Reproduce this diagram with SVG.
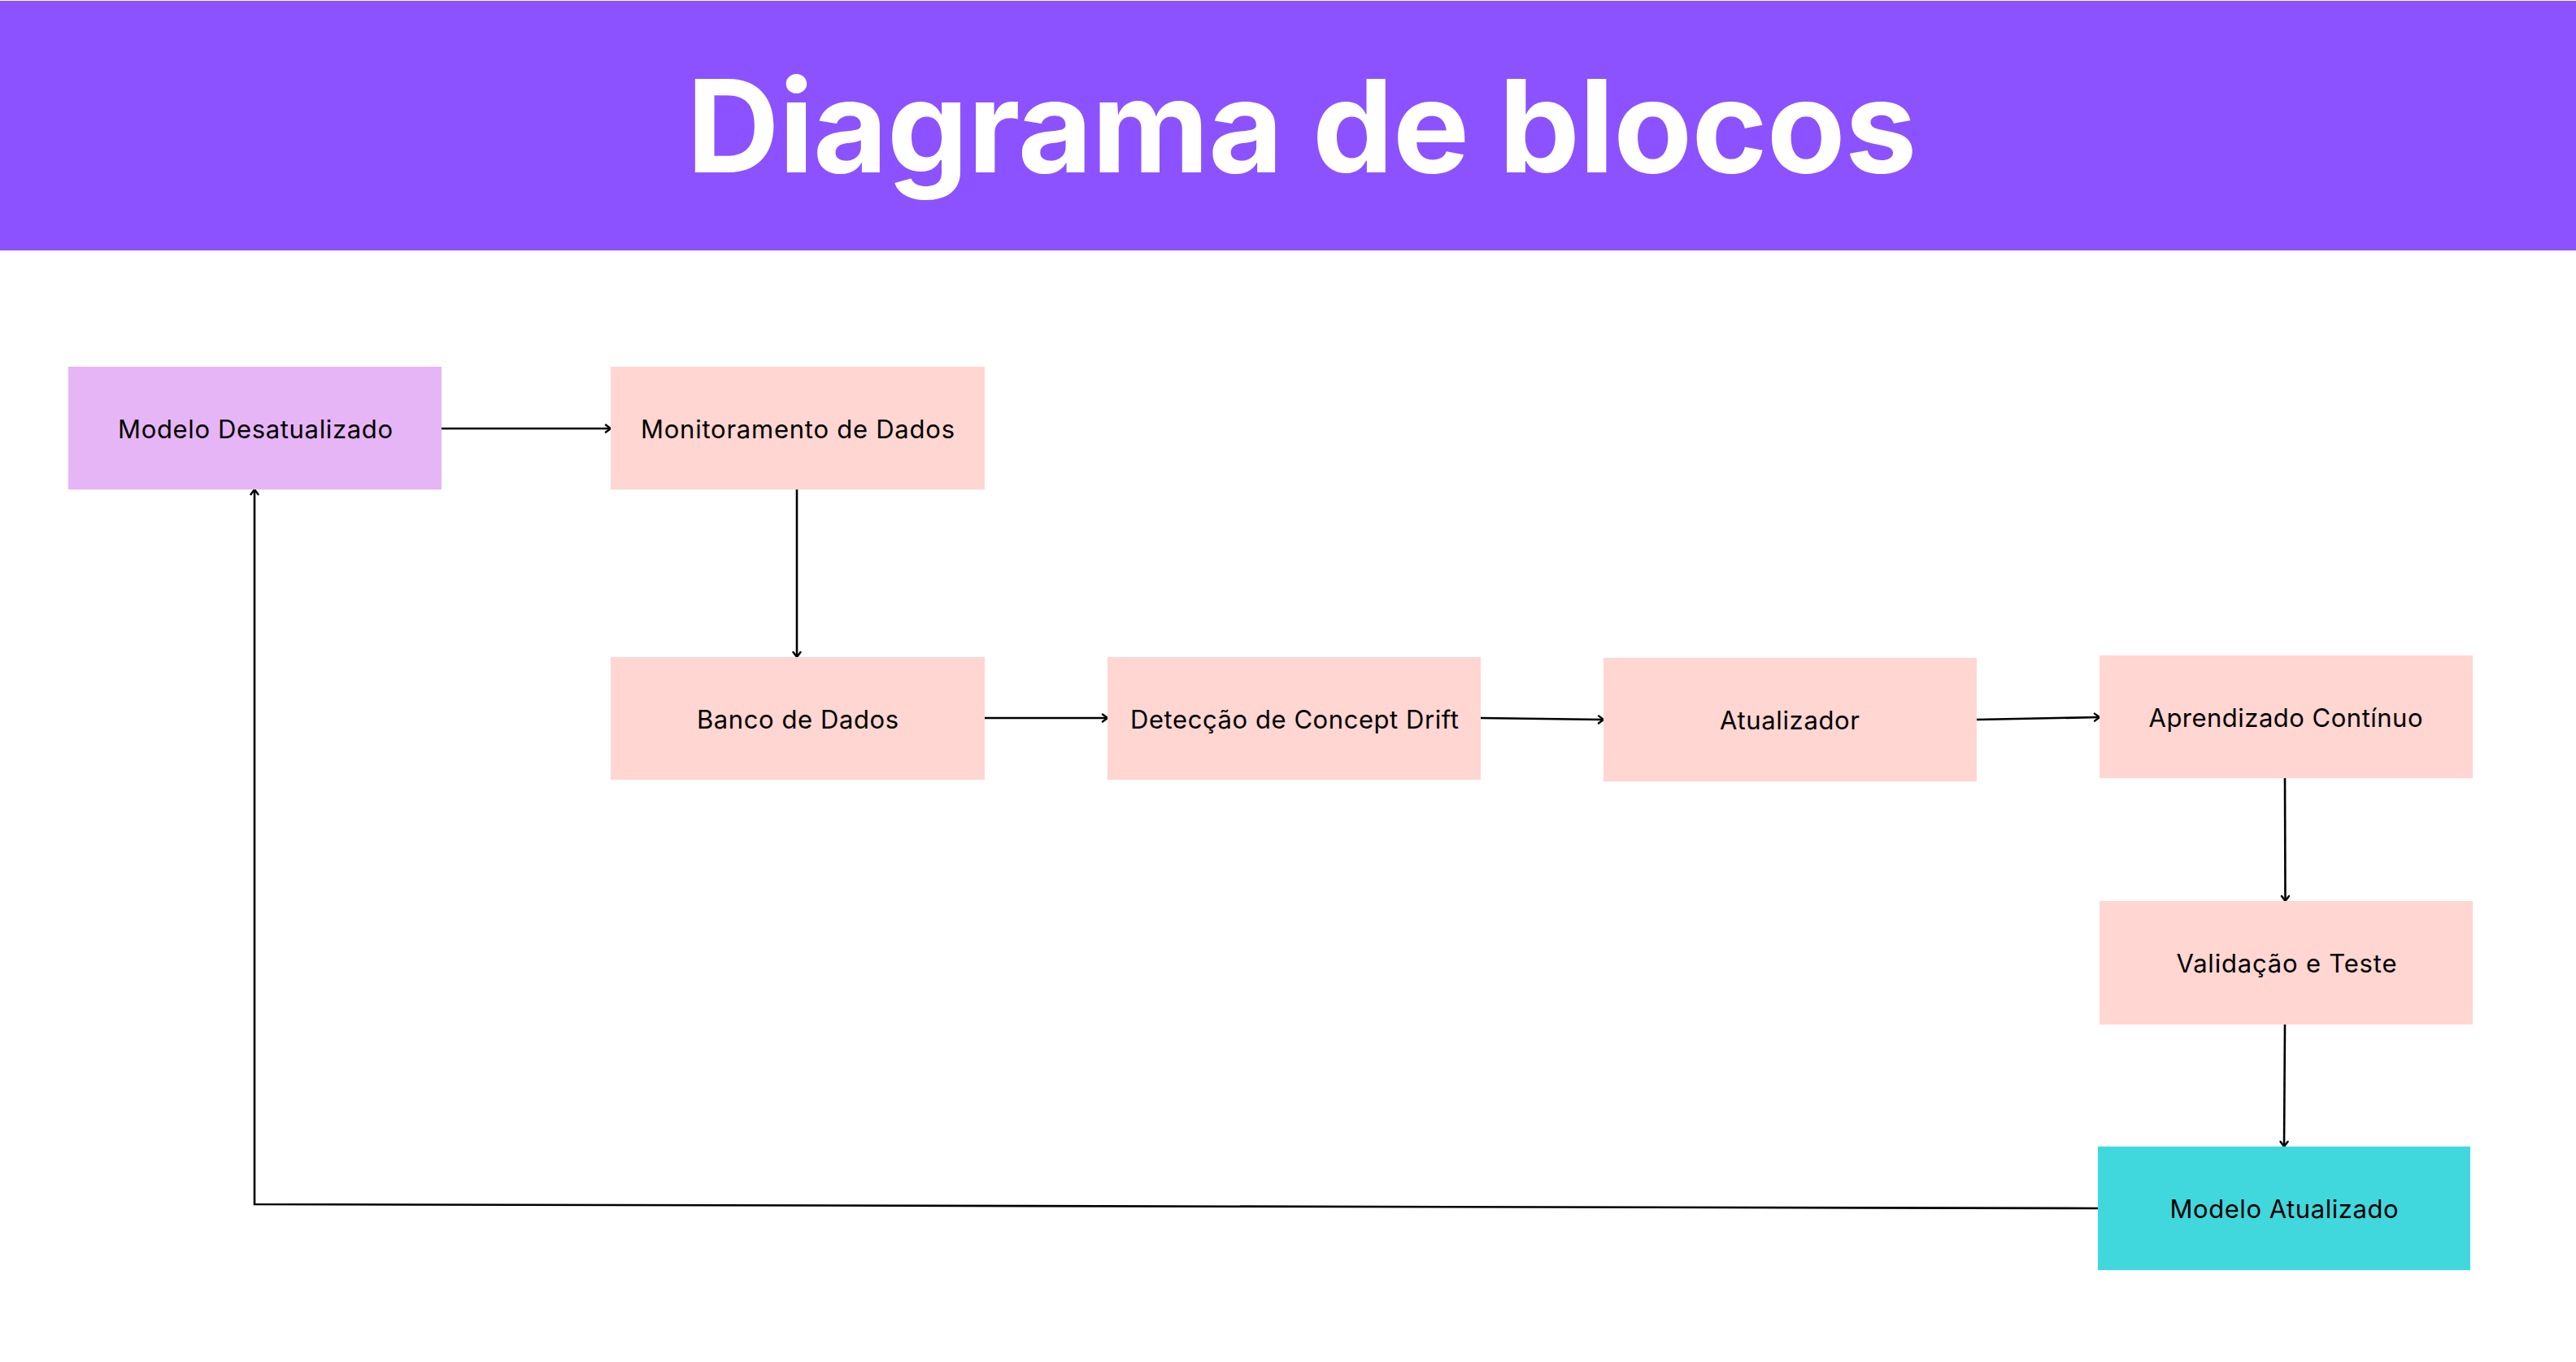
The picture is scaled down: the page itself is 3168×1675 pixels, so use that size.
<svg xmlns="http://www.w3.org/2000/svg" width="3168" height="1675" viewBox="0 0 3168 1675">
  <style>
    .lbl { font-family: Inter, "Open Sans", "Liberation Sans", sans-serif; font-size: 31px; fill: #000000; text-anchor: middle; dominant-baseline: central; }
    .title { font-family: Inter, "Liberation Sans", sans-serif; font-weight: 700; font-size: 158px; fill: #ffffff; text-anchor: middle; }
    .pink { fill: #FFD6D2; }
    .conn { fill: none; stroke: #000000; stroke-width: 2.6; marker-end: url(#arrow); }
  </style>
  <defs>
    <marker id="arrow" markerUnits="userSpaceOnUse" viewBox="0 0 12 12" refX="10" refY="6" markerWidth="12" markerHeight="12" orient="auto">
      <path d="M4,1.5 L10,6 L4,10.5" fill="none" stroke="#000000" stroke-width="2.4" stroke-linecap="round" stroke-linejoin="round"/>
    </marker>
  </defs>
  <rect x="0" y="0" width="3168" height="1675" fill="#ffffff"/>
  <g id="header">
    <rect x="0" y="1" width="3168" height="307" fill="#8C52FF"/>
    <text class="title" x="1601" y="212" textLength="1513">Diagrama de blocos</text>
  </g>

  <g id="connectors">
    <path class="conn" d="M543,527 L751,527"/>
    <path class="conn" d="M980,602 L980,808"/>
    <path class="conn" d="M1211,883 L1362,883"/>
    <path class="conn" d="M1821,883 L1972,885"/>
    <path class="conn" d="M2431,885 L2582,882"/>
    <path class="conn" d="M2810,957 L2810.5,1108"/>
    <path class="conn" d="M2810,1260 L2809,1410"/>
    <path class="conn" d="M2580,1486 L313,1481 L313,602"/>
  </g>

  <g id="node-modelo-desatualizado">
    <rect x="84" y="451" width="459" height="151" fill="#E6B5F6"/>
    <text class="lbl" x="314" y="527" textLength="338">Modelo Desatualizado</text>
  </g>
  <g id="node-monitoramento">
    <rect class="pink" x="751" y="451" width="460" height="151"/>
    <text class="lbl" x="981" y="527" textLength="386">Monitoramento de Dados</text>
  </g>
  <g id="node-banco">
    <rect class="pink" x="751" y="808" width="460" height="151"/>
    <text class="lbl" x="981" y="884" textLength="248">Banco de Dados</text>
  </g>
  <g id="node-deteccao">
    <rect class="pink" x="1362" y="808" width="459" height="151"/>
    <text class="lbl" x="1592" y="884" textLength="404">Detecção de Concept Drift</text>
  </g>
  <g id="node-atualizador">
    <rect class="pink" x="1972" y="809" width="459" height="152"/>
    <text class="lbl" x="2201" y="885" textLength="172">Atualizador</text>
  </g>
  <g id="node-aprendizado">
    <rect class="pink" x="2582" y="806" width="459" height="151"/>
    <text class="lbl" x="2811" y="882" textLength="337">Aprendizado Contínuo</text>
  </g>
  <g id="node-validacao">
    <rect class="pink" x="2582" y="1108" width="459" height="152"/>
    <text class="lbl" x="2812" y="1184" textLength="271">Validação e Teste</text>
  </g>
  <g id="node-modelo-atualizado">
    <rect x="2580" y="1410" width="458" height="152" fill="#41D8DD"/>
    <text class="lbl" x="2809" y="1486" textLength="281">Modelo Atualizado</text>
  </g>
</svg>
